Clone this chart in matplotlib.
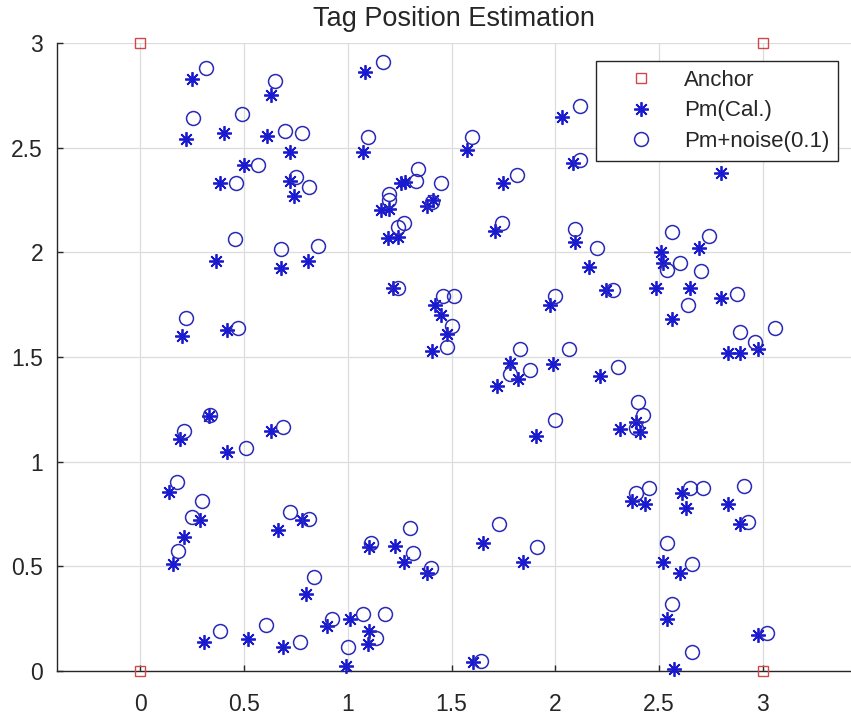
import matplotlib
matplotlib.use("Agg")
import matplotlib.pyplot as plt
from matplotlib.ticker import FormatStrFormatter

plt.rcParams['font.family'] = ['Liberation Sans', 'DejaVu Sans']

# Anchor positions
anchor_x = [0, 3, 0, 3]
anchor_y = [0, 0, 3, 3]

# Calculated tag positions
pm_x = [0.25, 0.22, 0.405, 0.63, 0.61, 0.72, 0.50, 0.385, 0.72, 0.74,
        0.365, 0.68, 0.81, 0.20, 0.42, 1.085, 1.075, 1.255, 1.275, 1.16,
        1.20, 1.38, 1.41, 1.195, 1.24, 1.22, 1.42, 1.45, 1.48, 1.405,
        1.575, 2.03, 2.085, 1.75, 1.71, 2.095, 2.16, 2.245,
        2.485, 2.51, 2.52, 2.56, 2.69, 2.65, 2.80, 2.80, 2.83, 2.89, 2.975,
        1.975, 1.78, 1.82, 1.72, 1.99, 2.215, 1.905,
        2.39, 2.31, 2.41, 2.37, 2.43, 2.61, 2.63, 2.83, 2.89,
        1.65, 1.845, 1.38, 2.52, 2.60, 2.54, 2.57, 2.975, 1.605,
        0.33, 0.19, 0.63, 0.42, 0.14, 0.29, 0.21, 0.16, 0.78, 0.665,
        0.80, 0.31, 0.52, 0.69, 0.90, 1.01, 1.105, 1.10, 0.99, 1.105,
        1.23, 1.27]
pm_y = [2.83, 2.54, 2.57, 2.75, 2.555, 2.48, 2.415, 2.33, 2.34, 2.27,
        1.96, 1.925, 1.96, 1.60, 1.63, 2.86, 2.48, 2.33, 2.335, 2.20,
        2.205, 2.22, 2.25, 2.07, 2.075, 1.83, 1.75, 1.70, 1.61, 1.53,
        2.49, 2.645, 2.425, 2.33, 2.10, 2.05, 1.93, 1.82,
        1.83, 2.00, 1.95, 1.68, 2.02, 1.83, 1.78, 2.38, 1.52, 1.52, 1.54,
        1.75, 1.47, 1.395, 1.36, 1.465, 1.41, 1.125,
        1.19, 1.155, 1.14, 0.81, 0.80, 0.85, 0.78, 0.80, 0.70,
        0.61, 0.52, 0.47, 0.52, 0.47, 0.25, 0.01, 0.17, 0.045,
        1.22, 1.11, 1.145, 1.045, 0.855, 0.72, 0.64, 0.51, 0.72, 0.675,
        0.37, 0.14, 0.155, 0.115, 0.215, 0.25, 0.19, 0.13, 0.025, 0.59,
        0.595, 0.52]

# Positions with added noise
pn_x = [0.32, 0.255, 0.49, 0.65, 0.70, 0.78, 0.57, 0.46, 0.75, 0.815,
        0.457, 0.68, 0.855, 0.22, 0.47, 1.17, 1.10, 1.34, 1.33, 1.20,
        1.20, 1.45, 1.405, 1.27, 1.24, 1.24, 1.46, 1.51, 1.50, 1.48,
        1.60, 2.12, 2.12, 1.815, 1.745, 2.095, 2.20, 2.28,
        2.56, 2.54, 2.60, 2.74, 2.70, 2.64, 2.875, 2.89, 3.06, 2.96, 2.80,
        2.00, 1.83, 2.065, 1.78, 1.88, 2.30, 2.00,
        2.40, 2.42, 2.39, 2.39, 2.45, 2.65, 2.71, 2.91, 2.93,
        1.73, 1.91, 1.40, 2.54, 2.66, 2.56, 2.66, 3.02, 1.64,
        0.335, 0.21, 0.69, 0.51, 0.18, 0.30, 0.25, 0.185, 0.72, 0.815,
        0.84, 0.385, 0.605, 0.77, 0.925, 1.075, 1.18, 1.135, 1.00, 1.11,
        1.30, 1.315]
pn_y = [2.88, 2.64, 2.66, 2.82, 2.58, 2.57, 2.415, 2.33, 2.36, 2.31,
        2.065, 2.015, 2.03, 1.685, 1.64, 2.91, 2.55, 2.40, 2.34, 2.28,
        2.25, 2.33, 2.24, 2.14, 2.12, 1.83, 1.79, 1.79, 1.65, 1.55,
        2.55, 2.70, 2.44, 2.37, 2.14, 2.11, 2.02, 1.82,
        2.095, 1.915, 1.95, 2.08, 1.91, 1.75, 1.80, 1.62, 1.64, 1.57, 2.47,
        1.79, 1.54, 1.54, 1.42, 1.44, 1.45, 1.20,
        1.285, 1.225, 1.16, 0.85, 0.875, 0.875, 0.875, 0.885, 0.71,
        0.70, 0.59, 0.49, 0.61, 0.51, 0.32, 0.09, 0.18, 0.05,
        1.225, 1.145, 1.165, 1.065, 0.905, 0.81, 0.735, 0.575, 0.76, 0.725,
        0.45, 0.19, 0.22, 0.14, 0.25, 0.27, 0.27, 0.16, 0.115, 0.61,
        0.685, 0.565]

x_ticks = [0, 0.5, 1, 1.5, 2, 2.5, 3]
y_ticks = [0, 0.5, 1, 1.5, 2, 2.5, 3]

fig = plt.figure(figsize=(8.51, 7.15), dpi=100)
ax = fig.add_axes([57 / 851, 44 / 715, 1 - 57 / 851, (671 - 43) / 715])

text_col = '#262626'
blue = '#1a1ad0'

ax.plot(anchor_x, anchor_y, linestyle='none', marker='s', markersize=7,
        markerfacecolor='none', markeredgecolor='#d04848', markeredgewidth=1.0,
        label='Anchor', clip_on=False, zorder=3)
ax.plot(pm_x, pm_y, linestyle='none', marker=(8, 2, 0), markersize=10.5,
        markeredgecolor=blue, markerfacecolor=blue, markeredgewidth=1.3,
        label='Pm(Cal.)', clip_on=False, zorder=3)
ax.plot(pn_x, pn_y, linestyle='none', marker='o', markersize=10,
        markerfacecolor='none', markeredgecolor='#2a2ab8', markeredgewidth=1.1,
        label='Pm+noise(0.1)', clip_on=False, zorder=3)

ax.set_xlim(-0.4, 3.424)
ax.set_ylim(0, 3)
ax.set_xticks(x_ticks)
ax.set_yticks(y_ticks)
ax.xaxis.set_major_formatter(FormatStrFormatter('%g'))
ax.yaxis.set_major_formatter(FormatStrFormatter('%g'))

ax.grid(True, color='#dcdcdc', linewidth=0.9)
ax.set_axisbelow(True)

for side in ('top', 'right'):
    ax.spines[side].set_visible(False)
for side in ('left', 'bottom'):
    ax.spines[side].set_color(text_col)
    ax.spines[side].set_linewidth(1.0)

ax.tick_params(axis='both', direction='in', length=4, width=1.0,
               colors=text_col, labelsize=16.5)
ax.tick_params(axis='x', pad=16)
ax.tick_params(axis='y', pad=10)

ax.set_title('Tag Position Estimation', fontsize=19.5, color='#262626', pad=12)

leg = ax.legend(loc='upper right', bbox_to_anchor=((838 - 57) / 794, 0.971),
                borderaxespad=0, fontsize=16, frameon=True, fancybox=False,
                edgecolor='#262626', framealpha=1.0, borderpad=0.4,
                handlelength=3.25, handletextpad=0.3, labelspacing=0.42,
                numpoints=1)
leg.get_frame().set_linewidth(1.0)
for t in leg.get_texts():
    t.set_color(text_col)

fig.savefig('out.png', dpi=100)
